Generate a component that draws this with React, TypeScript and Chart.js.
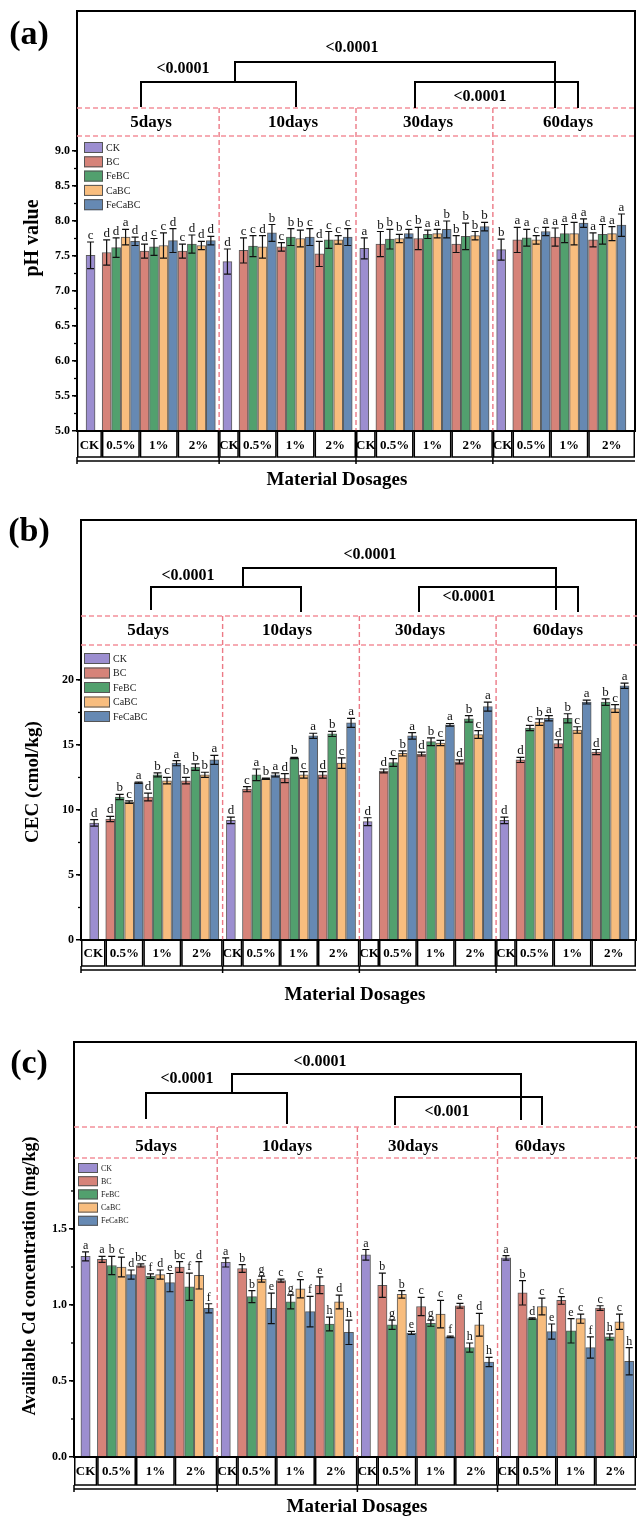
import React, { useEffect, useRef } from 'react';
import { Chart, registerables } from 'chart.js';

Chart.register(...registerables);

const FONT = '"Liberation Serif", "Times New Roman", serif';

// ---------- categories ----------
const DAYS = ['5days', '10days', '30days', '60days'];
const DOSAGE_CELLS = ['CK', '0.5%', '1%', '2%'];
const MATERIALS = ['CK', 'BC', 'FeBC', 'CaBC', 'FeCaBC'];
const COLORS = ['#9c8ed0', '#d68379', '#52a06e', '#f8bd7e', '#6689b3'];
const BAR_BORDER = 'rgba(50,50,50,0.8)';

// ---------- (a) pH value ----------
// CK: one value per day; others: day-major, dosage (0.5%,1%,2%) minor
const PH_CK = [7.51, 7.42, 7.61, 7.59];
const PH_CK_ERR = [0.19, 0.18, 0.15, 0.15];
const PH_CK_LET = ['c', 'd', 'a', 'b'];
const PH_BC = [7.55, 7.57, 7.57, 7.58, 7.63, 7.53, 7.67, 7.75, 7.67, 7.73, 7.77, 7.73];
const PH_BC_ERR = [0.18, 0.1, 0.1, 0.18, 0.06, 0.18, 0.18, 0.16, 0.12, 0.18, 0.13, 0.1];
const PH_BC_LET = ['d', 'd', 'c', 'c', 'c', 'd', 'b', 'b', 'b', 'a', 'a', 'a'];
const PH_FEBC = [7.62, 7.63, 7.67, 7.64, 7.77, 7.73, 7.74, 7.81, 7.78, 7.76, 7.82, 7.81];
const PH_FEBC_ERR = [0.14, 0.12, 0.13, 0.15, 0.12, 0.12, 0.14, 0.06, 0.19, 0.12, 0.13, 0.14];
const PH_FEBC_LET = ['d', 'c', 'd', 'c', 'b', 'c', 'b', 'a', 'b', 'a', 'a', 'a'];
const PH_CABC = [7.77, 7.65, 7.65, 7.63, 7.75, 7.73, 7.75, 7.82, 7.79, 7.73, 7.82, 7.82];
const PH_CABC_ERR = [0.11, 0.18, 0.06, 0.16, 0.12, 0.06, 0.06, 0.06, 0.06, 0.06, 0.16, 0.1];
const PH_CABC_LET = ['a', 'c', 'd', 'd', 'b', 'c', 'b', 'a', 'b', 'c', 'a', 'a'];
const PH_FECABC = [7.71, 7.72, 7.72, 7.83, 7.77, 7.77, 7.82, 7.88, 7.92, 7.85, 7.97, 7.94];
const PH_FECABC_ERR = [0.06, 0.17, 0.06, 0.12, 0.12, 0.12, 0.06, 0.12, 0.06, 0.06, 0.06, 0.16];
const PH_FECABC_LET = ['d', 'd', 'd', 'b', 'c', 'c', 'c', 'b', 'b', 'a', 'a', 'a'];
const PH_TICKS = [5.0, 5.5, 6.0, 6.5, 7.0, 7.5, 8.0, 8.5, 9.0];

// ---------- (b) CEC ----------
const CEC_CK = [9.0, 9.2, 9.1, 9.2];
const CEC_CK_ERR = [0.25, 0.25, 0.3, 0.25];
const CEC_CK_LET = ['d', 'd', 'd', 'd'];
const CEC_BC = [9.3, 11.0, 12.25, 11.6, 12.45, 12.7, 13.0, 14.3, 13.7, 13.85, 15.1, 14.45];
const CEC_BC_ERR = [0.2, 0.3, 0.25, 0.2, 0.35, 0.25, 0.15, 0.15, 0.15, 0.2, 0.3, 0.2];
const CEC_BC_LET = ['d', 'd', 'b', 'c', 'd', 'd', 'd', 'd', 'd', 'd', 'd', 'd'];
const CEC_FEBC = [11.0, 12.7, 13.3, 12.7, 14.0, 15.85, 13.65, 15.25, 17.0, 16.3, 17.05, 18.3];
const CEC_FEBC_ERR = [0.2, 0.15, 0.25, 0.45, 0.05, 0.2, 0.3, 0.3, 0.25, 0.2, 0.35, 0.25];
const CEC_FEBC_LET = ['b', 'b', 'b', 'a', 'b', 'b', 'c', 'b', 'b', 'c', 'b', 'b'];
const CEC_CABC = [10.6, 12.25, 12.7, 12.4, 12.7, 13.6, 14.35, 15.15, 15.8, 16.75, 16.15, 17.8];
const CEC_CABC_ERR = [0.1, 0.25, 0.2, 0.05, 0.25, 0.4, 0.2, 0.2, 0.3, 0.25, 0.25, 0.3];
const CEC_CABC_LET = ['c', 'c', 'b', 'b', 'c', 'c', 'b', 'c', 'c', 'b', 'c', 'c'];
const CEC_FECABC = [12.1, 13.6, 13.85, 12.7, 15.7, 16.7, 15.7, 16.55, 17.95, 17.05, 18.3, 19.55];
const CEC_FECABC_ERR = [0.05, 0.2, 0.35, 0.15, 0.2, 0.35, 0.25, 0.1, 0.35, 0.2, 0.15, 0.2];
const CEC_FECABC_LET = ['a', 'a', 'a', 'a', 'a', 'a', 'a', 'a', 'a', 'a', 'a', 'a'];
const CEC_TICKS = [0, 5, 10, 15, 20];

// ---------- (c) Available Cd ----------
const CD_CK = [1.32, 1.28, 1.33, 1.31];
const CD_CK_ERR = [0.03, 0.03, 0.035, 0.015];
const CD_CK_LET = ['a', 'a', 'a', 'a'];
const CD_BC = [1.3, 1.26, 1.25, 1.24, 1.16, 1.13, 1.13, 0.99, 0.995, 1.08, 1.03, 0.98];
const CD_BC_ERR = [0.02, 0.01, 0.035, 0.025, 0.01, 0.055, 0.08, 0.06, 0.015, 0.08, 0.025, 0.015];
const CD_BC_LET = ['a', 'bc', 'bc', 'b', 'c', 'e', 'b', 'c', 'e', 'b', 'c', 'c'];
const CD_FEBC = [1.26, 1.19, 1.12, 1.055, 1.02, 0.875, 0.87, 0.88, 0.72, 0.91, 0.83, 0.79];
const CD_FEBC_ERR = [0.06, 0.015, 0.09, 0.04, 0.045, 0.045, 0.03, 0.02, 0.03, 0.005, 0.08, 0.02];
const CD_FEBC_LET = ['b', 'f', 'f', 'b', 'g', 'h', 'g', 'g', 'h', 'd', 'e', 'h'];
const CD_CABC = [1.25, 1.2, 1.195, 1.17, 1.107, 1.02, 1.07, 0.94, 0.87, 0.99, 0.91, 0.89];
const CD_CABC_ERR = [0.065, 0.03, 0.09, 0.02, 0.06, 0.045, 0.025, 0.09, 0.075, 0.055, 0.03, 0.05];
const CD_CABC_LET = ['c', 'd', 'd', 'g', 'c', 'd', 'b', 'c', 'd', 'c', 'c', 'c'];
const CD_FECABC = [1.2, 1.147, 0.978, 0.978, 0.956, 0.82, 0.816, 0.79, 0.625, 0.825, 0.72, 0.63];
const CD_FECABC_ERR = [0.03, 0.06, 0.03, 0.1, 0.1, 0.08, 0.01, 0.005, 0.03, 0.05, 0.07, 0.09];
const CD_FECABC_LET = ['d', 'e', 'f', 'e', 'f', 'h', 'e', 'f', 'h', 'e', 'f', 'h'];
const CD_TICKS = [0.0, 0.5, 1.0, 1.5];

// ---------- layout in x-scale units ----------
const GROUP = 14.45;
const BAR_OFF = 1.7;
const ckX = (d: number) => d * GROUP;
const barX = (d: number, k: number, m: number) => d * GROUP + BAR_OFF + 4 * k + m;
const divX = (d: number) => d * GROUP - 0.875;

type Series = { vals: number[]; errs: number[]; lets: string[] };

interface Panel {
  id: string; top: number; height: number;
  tag: string; tagY: number;
  boxTop: number; axisX: number; axisY: number; right: number;
  xMin: number; xMax: number; yMin: number; yMax: number;
  ticks: number[]; minorStep: number; minorMax: number; dec: number;
  barW: number; letterSize: number; capHalf: number;
  yTitle: string; yTitleX: number; yTitleY: number; yTitleSize: number;
  series: Series[];
  dash1: number; dash2: number; dayY: number; dayX: number[];
  brackets: number[][]; pLabels: [string, number, number][];
  legend: { x: number; y: number; w: number; h: number; step: number; size: number };
  cellBottom: number; lineY: number; cellTextY: number; matX: number; matY: number;
}

const PANELS: Panel[] = [
  {
    id: 'a', top: 0, height: 500, tag: '(a)', tagY: 35,
    boxTop: 11, axisX: 77, axisY: 431, right: 635,
    xMin: -1.43, xMax: 57.48, yMin: 5, yMax: 11,
    ticks: PH_TICKS, minorStep: 0.25, minorMax: 9.0, dec: 1,
    barW: 9, letterSize: 13, capHalf: 3.5,
    yTitle: 'pH value', yTitleX: 33, yTitleY: 238, yTitleSize: 20,
    series: [
      { vals: PH_CK, errs: PH_CK_ERR, lets: PH_CK_LET },
      { vals: PH_BC, errs: PH_BC_ERR, lets: PH_BC_LET },
      { vals: PH_FEBC, errs: PH_FEBC_ERR, lets: PH_FEBC_LET },
      { vals: PH_CABC, errs: PH_CABC_ERR, lets: PH_CABC_LET },
      { vals: PH_FECABC, errs: PH_FECABC_ERR, lets: PH_FECABC_LET },
    ],
    dash1: 108, dash2: 136, dayY: 123, dayX: [151, 293, 428, 568],
    brackets: [
      [235, 82, 235, 62, 555, 62, 555, 108],
      [141, 107, 141, 82, 296, 82, 296, 107],
      [415, 108, 415, 82, 578, 82, 578, 108],
    ],
    pLabels: [['<0.0001', 352, 48], ['<0.0001', 183, 69], ['<0.0001', 480, 97]],
    legend: { x: 84, y: 142, w: 19, h: 11, step: 14.3, size: 10 },
    cellBottom: 457, lineY: 461, cellTextY: 446, matX: 337, matY: 480,
  },
  {
    id: 'b', top: 500, height: 518, tag: '(b)', tagY: 532,
    boxTop: 520, axisX: 81, axisY: 940, right: 636,
    xMin: -1.39, xMax: 57.26, yMin: 0, yMax: 32.3,
    ticks: CEC_TICKS, minorStep: 2.5, minorMax: 20, dec: 0,
    barW: 9, letterSize: 13, capHalf: 4,
    yTitle: 'CEC (cmol/kg)', yTitleX: 33, yTitleY: 782, yTitleSize: 19,
    series: [
      { vals: CEC_CK, errs: CEC_CK_ERR, lets: CEC_CK_LET },
      { vals: CEC_BC, errs: CEC_BC_ERR, lets: CEC_BC_LET },
      { vals: CEC_FEBC, errs: CEC_FEBC_ERR, lets: CEC_FEBC_LET },
      { vals: CEC_CABC, errs: CEC_CABC_ERR, lets: CEC_CABC_LET },
      { vals: CEC_FECABC, errs: CEC_FECABC_ERR, lets: CEC_FECABC_LET },
    ],
    dash1: 616, dash2: 645, dayY: 631, dayX: [148, 287, 420, 558],
    brackets: [
      [243, 587, 243, 568, 556, 568, 556, 610],
      [151, 610, 151, 587, 301, 587, 301, 612],
      [419, 612, 419, 587, 578, 587, 578, 612],
    ],
    pLabels: [['<0.0001', 370, 555], ['<0.0001', 188, 576], ['<0.0001', 469, 597]],
    legend: { x: 84, y: 653, w: 26, h: 11, step: 14.5, size: 10 },
    cellBottom: 966, lineY: 970, cellTextY: 954, matX: 355, matY: 995,
  },
  {
    id: 'c', top: 1018, height: 499, tag: '(c)', tagY: 1064,
    boxTop: 1042, axisX: 74, axisY: 1457, right: 636,
    xMin: -1.19, xMax: 56.75, yMin: 0, yMax: 2.73,
    ticks: CD_TICKS, minorStep: 0.25, minorMax: 1.75, dec: 1,
    barW: 9.3, letterSize: 12, capHalf: 3.5,
    yTitle: 'Availiable Cd concentration (mg/kg)', yTitleX: 30, yTitleY: 1276, yTitleSize: 18,
    series: [
      { vals: CD_CK, errs: CD_CK_ERR, lets: CD_CK_LET },
      { vals: CD_BC, errs: CD_BC_ERR, lets: CD_BC_LET },
      { vals: CD_FEBC, errs: CD_FEBC_ERR, lets: CD_FEBC_LET },
      { vals: CD_CABC, errs: CD_CABC_ERR, lets: CD_CABC_LET },
      { vals: CD_FECABC, errs: CD_FECABC_ERR, lets: CD_FECABC_LET },
    ],
    dash1: 1127, dash2: 1158, dayY: 1147, dayX: [156, 287, 413, 540],
    brackets: [
      [232, 1093, 232, 1074, 521, 1074, 521, 1120],
      [146, 1119, 146, 1093, 287, 1093, 287, 1124],
      [395, 1125, 395, 1097, 542, 1097, 542, 1125],
    ],
    pLabels: [['<0.0001', 320, 1062], ['<0.0001', 187, 1079], ['<0.001', 447, 1112]],
    legend: { x: 78, y: 1163, w: 20, h: 10, step: 13.2, size: 8 },
    cellBottom: 1485, lineY: 1489, cellTextY: 1472, matX: 357, matY: 1507,
  },
];

const PINK_H = '#f3909a';
const PINK_V = '#ec7a86';

function pointX(mi: number, i: number) {
  return mi === 0 ? ckX(i) : barX(Math.floor(i / 3), i % 3, mi - 1);
}

function makeDeco(p: Panel) {
  const Y = (v: number) => v - p.top;
  const line = (ctx: CanvasRenderingContext2D, pts: number[]) => {
    ctx.beginPath();
    ctx.moveTo(pts[0], Y(pts[1]));
    for (let i = 2; i < pts.length; i += 2) ctx.lineTo(pts[i], Y(pts[i + 1]));
    ctx.stroke();
  };
  return {
    id: 'deco_' + p.id,
    beforeDatasetsDraw(chart: any) {
      const ctx: CanvasRenderingContext2D = chart.ctx;
      const xs = chart.scales.x;
      ctx.save();
      ctx.lineWidth = 1.4;
      ctx.setLineDash([5, 3]);
      ctx.strokeStyle = PINK_V;
      for (let d = 1; d < 4; d++) {
        const x = xs.getPixelForValue(divX(d));
        line(ctx, [x, p.dash1, x, p.axisY]);
      }
      ctx.restore();
    },
    afterDatasetsDraw(chart: any) {
      const ctx: CanvasRenderingContext2D = chart.ctx;
      const xs = chart.scales.x;
      const ys = chart.scales.y;
      ctx.save();

      // error bars and letters
      ctx.strokeStyle = '#111';
      ctx.fillStyle = '#111';
      ctx.lineWidth = 1.2;
      ctx.textAlign = 'center';
      ctx.textBaseline = 'alphabetic';
      ctx.font = `${p.letterSize}px ${FONT}`;
      p.series.forEach((s, mi) => {
        s.vals.forEach((v, i) => {
          const x = xs.getPixelForValue(pointX(mi, i));
          const yt = ys.getPixelForValue(v + s.errs[i]);
          const yb = ys.getPixelForValue(v - s.errs[i]);
          ctx.beginPath();
          ctx.moveTo(x, yt); ctx.lineTo(x, yb);
          ctx.moveTo(x - p.capHalf, yt); ctx.lineTo(x + p.capHalf, yt);
          ctx.moveTo(x - p.capHalf, yb); ctx.lineTo(x + p.capHalf, yb);
          ctx.stroke();
          ctx.fillText(s.lets[i], x, yt - 3);
        });
      });

      // minor ticks
      ctx.strokeStyle = '#000';
      ctx.lineWidth = 1.3;
      for (let v = p.yMin + p.minorStep; v <= p.minorMax + 1e-9; v += p.minorStep) {
        const y = ys.getPixelForValue(v);
        ctx.beginPath();
        ctx.moveTo(p.axisX - 3, y); ctx.lineTo(p.axisX, y);
        ctx.stroke();
      }

      // box top & right
      ctx.lineWidth = 2;
      line(ctx, [p.axisX - 1, p.boxTop, p.right, p.boxTop, p.right, p.axisY]);

      // pink header dashes
      ctx.setLineDash([5, 3]);
      ctx.strokeStyle = PINK_H;
      ctx.lineWidth = 1.4;
      line(ctx, [p.axisX, p.dash1, 637, p.dash1]);
      line(ctx, [p.axisX, p.dash2, 637, p.dash2]);
      ctx.setLineDash([]);

      // day labels
      ctx.fillStyle = '#000';
      ctx.font = `bold 17px ${FONT}`;
      ctx.textBaseline = 'middle';
      DAYS.forEach((d, i) => ctx.fillText(d, p.dayX[i], Y(p.dayY)));

      // brackets
      ctx.strokeStyle = '#000';
      ctx.lineWidth = 2;
      p.brackets.forEach((b) => line(ctx, b));
      ctx.font = `bold 16px ${FONT}`;
      p.pLabels.forEach(([t, x, y]) => ctx.fillText(t, x, Y(y)));

      // legend
      ctx.textAlign = 'left';
      ctx.font = `${p.legend.size}px ${FONT}`;
      MATERIALS.forEach((m, i) => {
        const ly = Y(p.legend.y + i * p.legend.step);
        ctx.fillStyle = COLORS[i];
        ctx.fillRect(p.legend.x, ly, p.legend.w, p.legend.h);
        ctx.strokeStyle = '#555';
        ctx.lineWidth = 1;
        ctx.strokeRect(p.legend.x + 0.5, ly + 0.5, p.legend.w - 1, p.legend.h - 1);
        ctx.fillStyle = '#222';
        ctx.fillText(m, p.legend.x + p.legend.w + 3, ly + p.legend.h / 2 + 0.5);
      });

      // dosage table
      ctx.textAlign = 'center';
      ctx.strokeStyle = '#000';
      ctx.fillStyle = '#000';
      ctx.lineWidth = 1.5;
      ctx.font = `bold 13px ${FONT}`;
      for (let d = 0; d < 4; d++) {
        const startU = d === 0 ? p.xMin : divX(d);
        const endU = d === 3 ? p.xMax : divX(d + 1);
        const bounds = [startU, ckX(d) + BAR_OFF - 0.5, ckX(d) + BAR_OFF + 3.5, ckX(d) + BAR_OFF + 7.5, endU];
        for (let c = 0; c < 4; c++) {
          const x0 = xs.getPixelForValue(bounds[c]);
          const x1 = xs.getPixelForValue(bounds[c + 1]);
          ctx.strokeRect(x0 + 0.75, Y(p.axisY), x1 - x0 - 1.5, p.cellBottom - p.axisY);
          ctx.fillText(DOSAGE_CELLS[c], (x0 + x1) / 2, Y(p.cellTextY));
        }
        const xd = xs.getPixelForValue(startU);
        line(ctx, [xd, p.cellBottom, xd, p.lineY + 3]);
      }
      line(ctx, [p.axisX, p.lineY, p.right, p.lineY]);

      // x title
      ctx.font = `bold 19px ${FONT}`;
      ctx.fillText('Material Dosages', p.matX, Y(p.matY));

      // y title
      ctx.save();
      ctx.translate(p.yTitleX, Y(p.yTitleY));
      ctx.rotate(-Math.PI / 2);
      ctx.font = `bold ${p.yTitleSize}px ${FONT}`;
      ctx.fillText(p.yTitle, 0, 0);
      ctx.restore();

      // panel tag
      ctx.font = `bold 34px ${FONT}`;
      ctx.fillText(p.tag, 29, Y(p.tagY));

      ctx.restore();
    },
  };
}

function buildConfig(p: Panel): any {
  const datasets = MATERIALS.map((m, mi) => {
    const s = p.series[mi];
    return {
      label: m,
      data: s.vals.map((v, i) => ({ x: pointX(mi, i), y: v })),
      backgroundColor: COLORS[mi],
      borderColor: BAR_BORDER,
      borderWidth: 1,
      barThickness: p.barW,
      grouped: false,
      base: p.yMin,
    };
  });
  return {
    type: 'bar',
    data: { datasets },
    options: {
      responsive: false,
      maintainAspectRatio: false,
      animation: false,
      layout: { padding: { top: p.boxTop - p.top, left: 0, right: 637 - p.right, bottom: 0 } },
      plugins: { legend: { display: false }, tooltip: { enabled: false } },
      scales: {
        x: {
          type: 'linear',
          min: p.xMin,
          max: p.xMax,
          offset: false,
          grid: { display: false, offset: false },
          ticks: { display: false },
          border: { display: true, color: '#000', width: 2 },
          afterFit: (s: any) => { s.height = p.height - (p.axisY - p.top); },
        },
        y: {
          type: 'linear',
          min: p.yMin,
          max: p.yMax,
          grid: { display: true, drawOnChartArea: false, drawTicks: true, tickLength: 5, color: '#000', lineWidth: 1.5 },
          border: { display: true, color: '#000', width: 2 },
          ticks: {
            color: '#000',
            padding: 2,
            font: { family: FONT, size: 12, weight: 'bold' },
            callback: (v: any) => Number(v).toFixed(p.dec),
          },
          afterBuildTicks: (s: any) => { s.ticks = p.ticks.map((v) => ({ value: v })); },
          afterFit: (s: any) => { s.width = p.axisX; },
        },
      },
    },
    plugins: [makeDeco(p)],
  };
}

function PanelChart({ p }: { p: Panel }) {
  const ref = useRef<HTMLCanvasElement>(null);
  useEffect(() => {
    const chart = new Chart(ref.current as HTMLCanvasElement, buildConfig(p));
    return () => chart.destroy();
  }, [p]);
  return (
    <canvas
      ref={ref}
      width={637}
      height={p.height}
      style={{ position: 'absolute', left: 0, top: p.top, width: 637, height: p.height }}
    />
  );
}

export default function App() {
  return (
    <div style={{ position: 'absolute', left: 0, top: 0, width: 637, height: 1517, background: '#fff', overflow: 'hidden' }}>
      {PANELS.map((p) => (
        <PanelChart key={p.id} p={p} />
      ))}
    </div>
  );
}
